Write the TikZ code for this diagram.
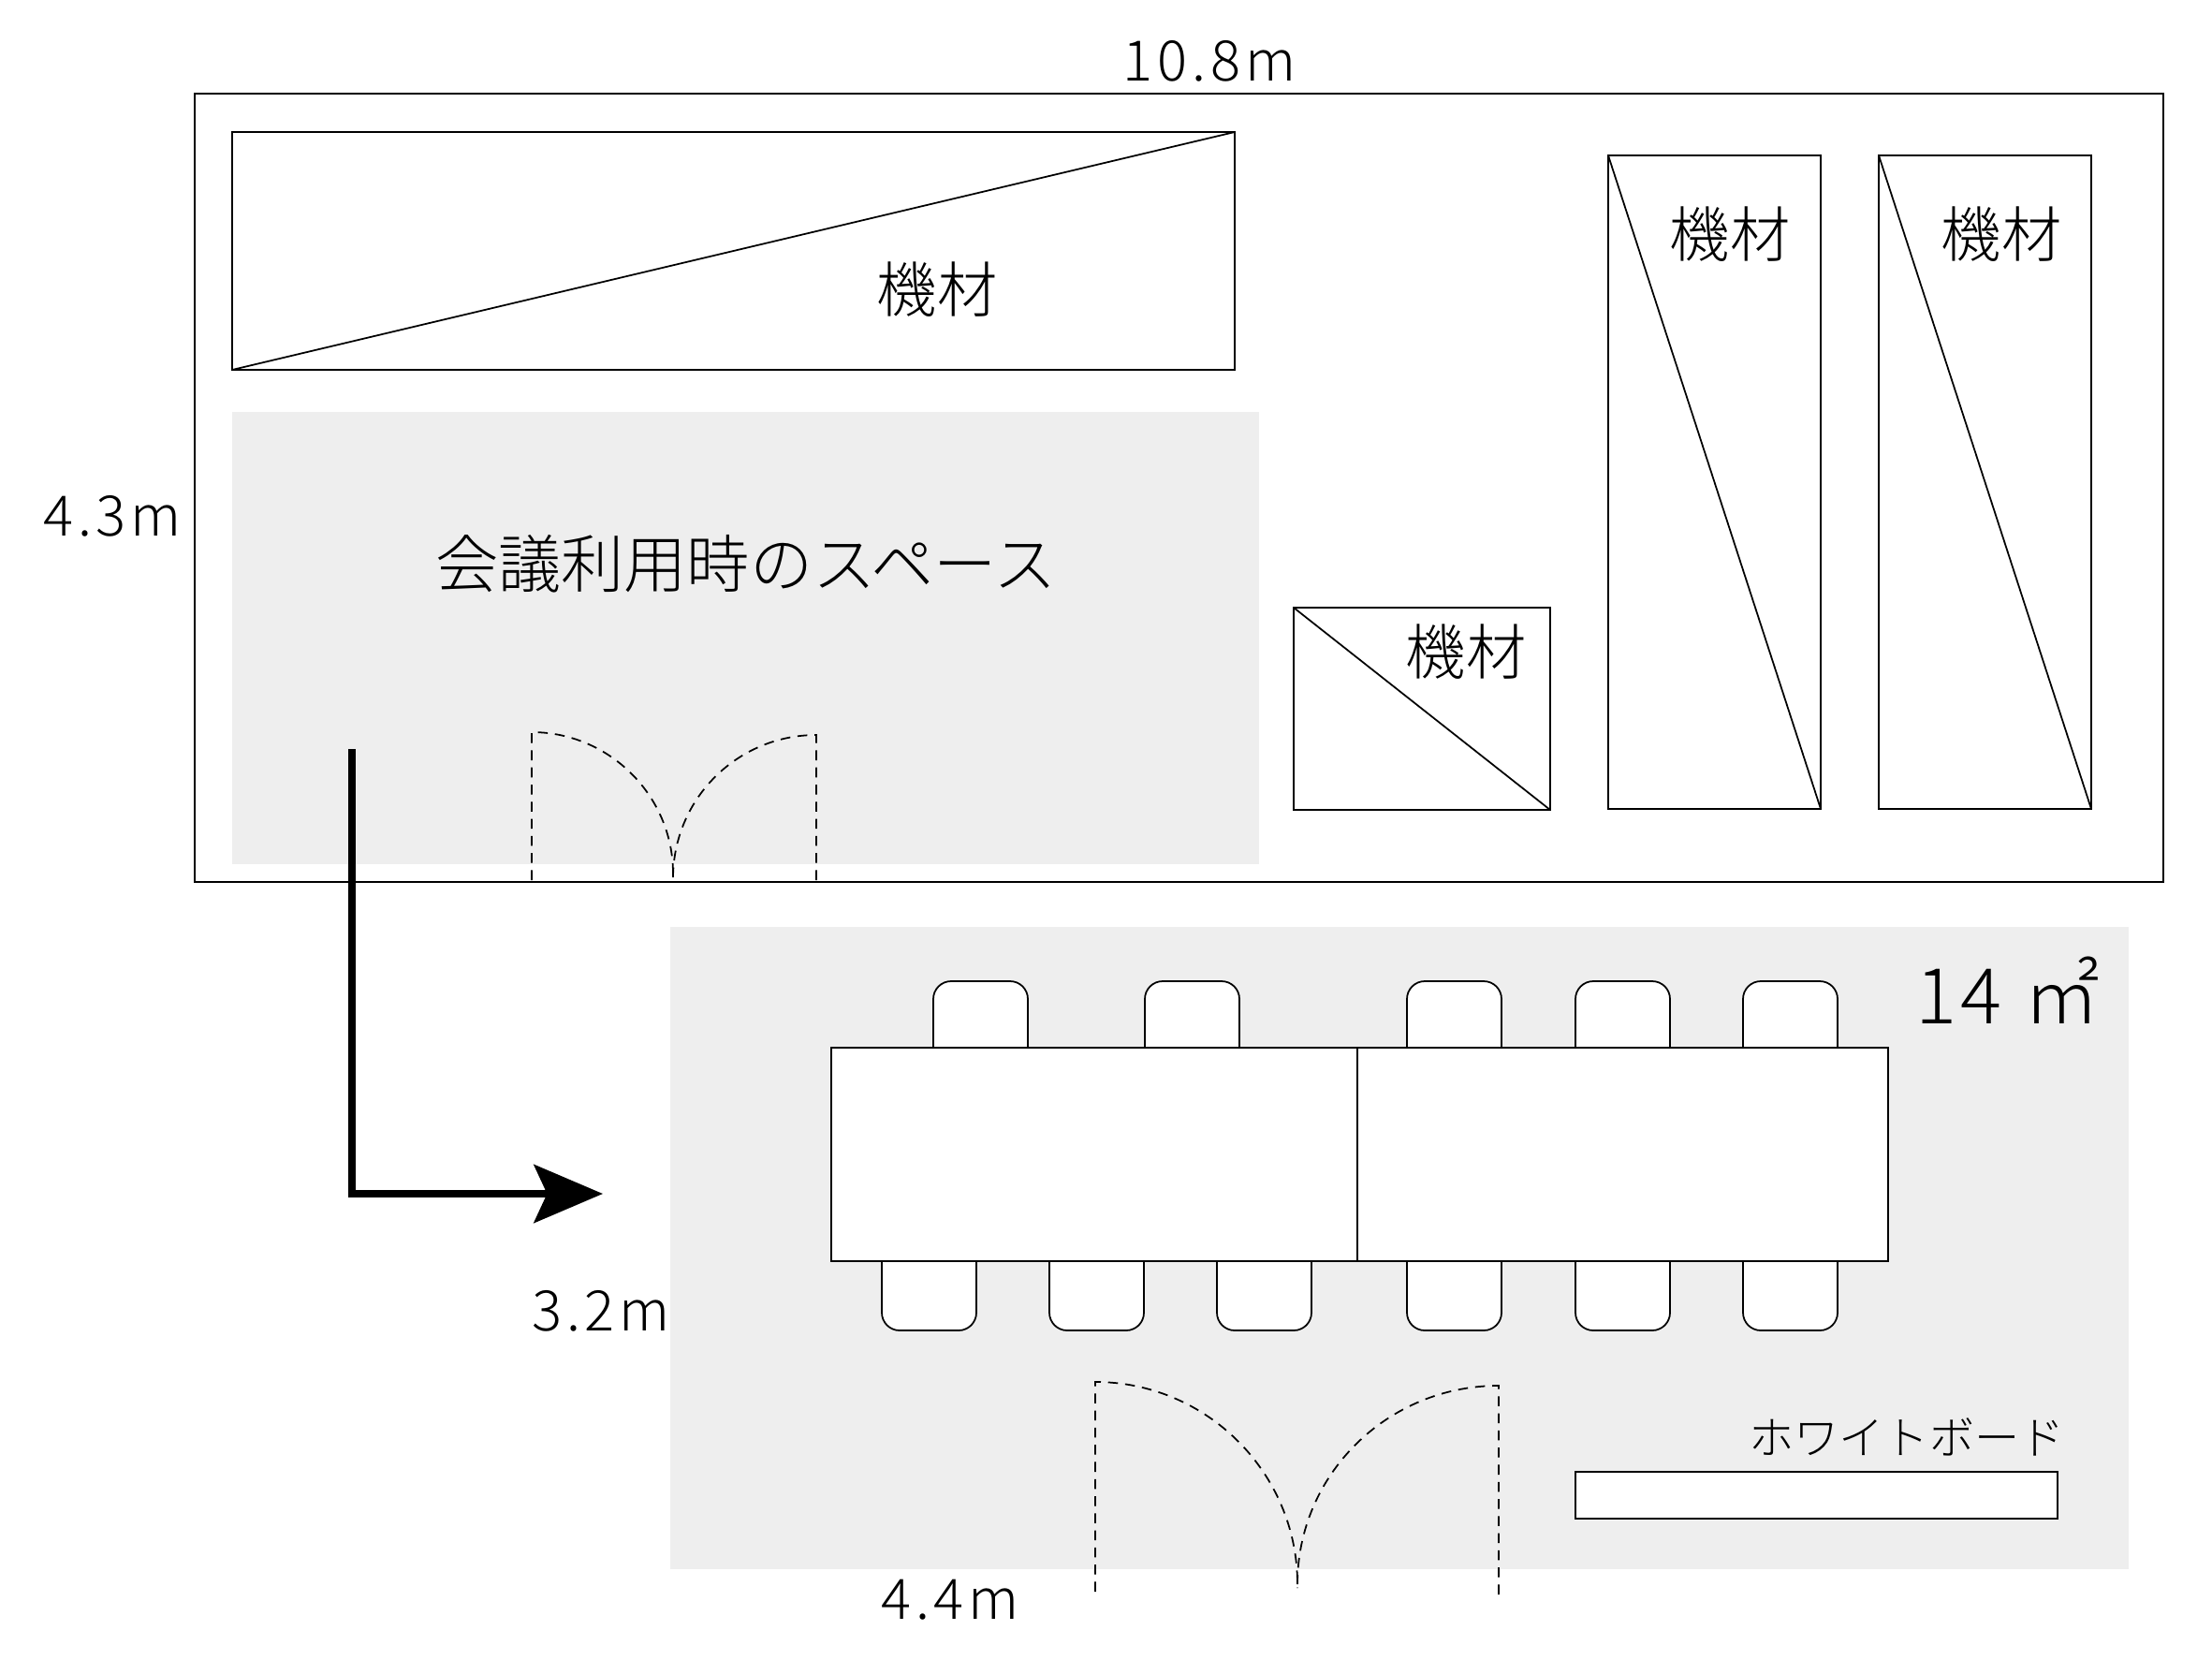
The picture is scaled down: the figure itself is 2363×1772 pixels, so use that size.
\documentclass[tikz,border=0pt]{standalone}
\usepackage{fontspec}
\setmainfont{Noto Sans CJK JP Light}
\newfontfamily\dimfont[LetterSpace=8]{Noto Sans CJK JP Light}
\newfontfamily\areafont[LetterSpace=5]{Noto Sans CJK JP Light}
\usetikzlibrary{arrows.meta}
\definecolor{roomgray}{HTML}{EEEEEE}

\begin{document}
\begin{tikzpicture}[x=0.01cm, y=-0.01cm, line width=0.5pt,
	equip/.style={draw=black, fill=white},
	chair/.style={draw=black, fill=white, rounded corners=0.19cm},
	door/.style={draw=black, line width=0.5pt, dash pattern=on 3pt off 2.2pt},
	lbl/.style={inner sep=0pt, font=\fontsize{18.3pt}{20pt}\selectfont},
	dim/.style={inner sep=0pt, font=\dimfont\fontsize{17pt}{20pt}\selectfont}]
\useasboundingbox (0, 0) rectangle (2363, 1772);
\draw[fill=white] (208, 100) rectangle (2311, 942);
\fill[roomgray] (248, 440) rectangle (1345, 923);
\fill[roomgray] (716, 990) rectangle (2274, 1676);

\draw[equip] (248, 141) rectangle (1319, 395) (248, 395) -- (1319, 141);
\draw[equip] (1382, 649) rectangle (1656, 865) (1382, 649) -- (1656, 865);
\draw[equip] (1718, 166) rectangle (1945, 864) (1718, 166) -- (1945, 864);
\draw[equip] (2007, 166) rectangle (2234, 864) (2007, 166) -- (2234, 864);
\node[lbl] (eq1) at (1001, 309) {機材};
\node[lbl] (eq2) at (1566, 696) {機材};
\node[lbl] (eq3) at (1848, 250) {機材};
\node[lbl] (eq4) at (2138, 250) {機材};

\node[inner sep=0pt, font=\fontsize{19.1pt}{20pt}\selectfont] (space) at (797, 602) {会議利用時のスペース};
\node[dim] (width) at (1292, 65) {10.8m};
\node[dim] (depth) at (120, 551) {4.3m};
\node[dim] (roomd) at (642, 1400) {3.2m};
\node[dim] (roomw) at (1015, 1709) {4.4m};
\node[inner sep=0pt, font=\areafont\fontsize{23.4pt}{26pt}\selectfont] (area) at (2145, 1058) {14 ㎡};
\node[inner sep=0pt, font=\fontsize{13.7pt}{16pt}\selectfont] (wbtext) at (2037, 1535) {ホワイトボード};

\draw[door] (568, 940) -- (568, 782) .. controls (651, 782) and (719, 850) .. (719, 933) -- (719, 940);
\draw[door] (872, 940) -- (872, 785) .. controls (788, 785) and (719, 853) .. (719, 938);
\draw[door] (1170, 1700) -- (1170, 1476) .. controls (1289, 1476) and (1386, 1573) .. (1386, 1692) -- (1386, 1696);
\draw[door] (1601, 1703) -- (1601, 1480) .. controls (1482, 1480) and (1386, 1575) .. (1386, 1692);

\foreach \cx in {997, 1223, 1503, 1683, 1862}
	\draw[chair] (\cx, 1119) |- (\cx + 101, 1048) -- (\cx + 101, 1119);
\foreach \cx in {942, 1121, 1300, 1503, 1683, 1862}
	\draw[chair] (\cx, 1347) |- (\cx + 101, 1421) -- (\cx + 101, 1347);
\draw[equip] (888, 1119) rectangle (1450, 1347);
\draw[equip] (1450, 1119) rectangle (2017, 1347);
\draw[equip] (1683, 1572) rectangle (2198, 1622);

\coordinate (from) at (376, 800);
\coordinate (to) at (644, 1275);
\draw[line width=2.3pt, -{Stealth[length=0.735cm, width=0.62cm, inset=0.14cm]}] (from) |- (to);
\end{tikzpicture}
\end{document}
